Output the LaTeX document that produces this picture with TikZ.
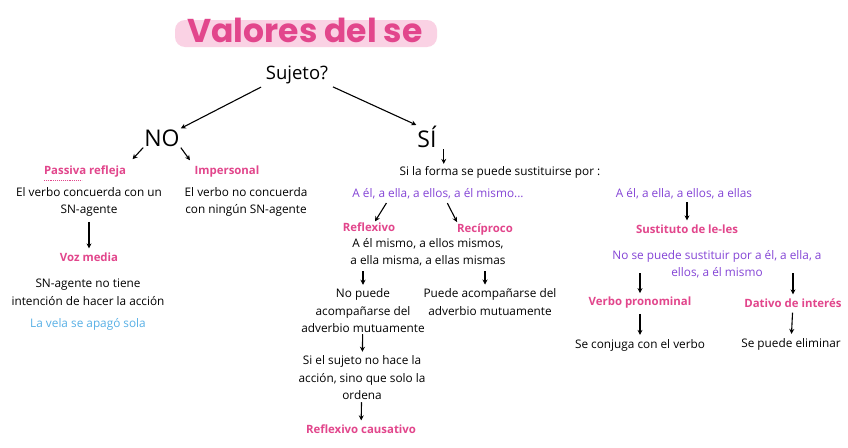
\documentclass[tikz,border=0pt]{standalone}
\usepackage{fontspec}
\setmainfont{Open Sans}
\newfontfamily\titlefont{Poppins}
\usetikzlibrary{arrows.meta,positioning}
\definecolor{rosa}{RGB}{226,70,140}
\definecolor{rosaclaro}{RGB}{250,210,228}
\definecolor{lila}{RGB}{132,68,214}
\definecolor{celeste}{RGB}{88,176,230}
\tikzset{
  txt/.style={align=center,inner sep=1pt,font=\fontsize{11.8}{17.5}\selectfont},
  tit/.style={txt,text=rosa,font=\fontsize{11.4}{17.5}\selectfont\bfseries},
  sust/.style={txt,text=lila},
  big/.style={inner sep=1pt,font=\fontsize{23}{25}\selectfont},
  arr/.style={-{Stealth[length=5pt,width=5pt]},line width=1.1pt,black},
  varr/.style={arr,shorten <=4pt,shorten >=3pt}
}
\begin{document}
\begin{tikzpicture}[x=1pt,y=-1pt]
  \useasboundingbox[fill=white] (0,0) rectangle (848,447);

  %% Titulo
  \fill[rosaclaro,rounded corners=10pt] (175,20) rectangle (437,47);
  \node[text=rosa,font=\titlefont\fontsize{33}{35}\selectfont\bfseries] (titulo) at (305,30) {Valores del se};
  \node[inner sep=1pt,font=\fontsize{18.5}{20}\selectfont] (sujeto) at (297,75) {Sujeto?};
  \node[big] (no) at (162,138) {NO};
  \node[big] (si) at (427,137) {SÍ};

  %% Rama NO
  \node[tit] (pasiva) at (85,172) {Passiva refleja};
  \node[txt] (concuerda) at (89,202) {El verbo concuerda con un\\SN-agente};
  \node[tit] (vozmedia) at (89,257) {Voz media};
  \node[txt] (intencion) at (88,292) {SN-agente no tiene\\intención de hacer la acción};
  \node[txt,text=celeste] (vela) at (88,324) {La vela se apagó sola};
  \node[tit] (impersonal) at (227,172) {Impersonal};
  \node[txt] (noconcuerda) at (246,202) {El verbo no concuerda\\con ningún SN-agente};
  \draw[rosa,densely dotted,line width=0.9pt] ([xshift=1pt,yshift=-1.5pt]pasiva.south west) -- ++(38,0);

  %% Rama SI
  \node[txt] (forma) at (500,172) {Si la forma se puede sustituirse por :};
  \node[sust] (aelmismo) at (438,194) {A él, a ella, a ellos, a él mismo...};
  \node[tit] (reflexivo) at (369,227) {Reflexivo};
  \node[tit] (reciproco) at (485,229) {Recíproco};
  \node[txt] (mismos) at (428,252) {A él mismo, a ellos mismos,\\a ella misma, a ellas mismas};
  \node[txt] (nopuede) at (363,311) {No puede\\acompañarse del\\adverbio mutuamente};
  \node[txt] (puede) at (490,302) {Puede acompañarse del\\adverbio mutuamente};
  \node[txt] (nohace) at (362,378) {Si el sujeto no hace la\\acción, sino que solo la\\ordena};
  \node[tit] (causativo) at (361,429) {Reflexivo causativo};

  \node[sust] (aellas) at (684,194) {A él, a ella, a ellos, a ellas};
  \node[tit] (sustituto) at (687,229) {Sustituto de le-les};
  \node[sust] (nosepuede) at (717,264) {No se puede sustituir por a él, a ella, a\\ellos, a él mismo};
  \node[tit] (pronominal) at (640,303) {Verbo pronominal};
  \node[tit] (dativo) at (793,303) {Dativo de interés};
  \node[txt] (conjuga) at (640,345) {Se conjuga con el verbo};
  \node[txt] (eliminar) at (791,344) {Se puede eliminar};

  %% Flechas
  \draw[arr,shorten <=4pt] (sujeto.south west) -- (no.north east);
  \draw[arr,shorten <=4pt] (sujeto.south east) -- (si.north west);
  \draw[arr,shorten >=8pt] (no.south west) -- (pasiva.north east);
  \draw[arr,shorten >=6pt] (no.south east) -- (impersonal.north west);
  \draw[varr] (concuerda) -- (vozmedia);
  \draw[arr,shorten >=1pt] ([xshift=6pt]si.south east) -- ([xshift=6pt]si.south east |- forma.north);
  \draw[arr,shorten <=3pt] ([xshift=-50pt]aelmismo.south) -- ([xshift=6pt]reflexivo.north);
  \draw[arr,shorten <=3pt] ([xshift=8pt]aelmismo.south) -- ([xshift=-28pt]reciproco.north);
  \draw[varr] (mismos.south -| nopuede) -- (nopuede);
  \draw[varr] (mismos.south -| reciproco) -- (reciproco |- puede.north);
  \draw[varr,shorten <=0pt] (nopuede) -- (nohace);
  \draw[varr,shorten <=1pt] (nohace) -- (causativo);
  \draw[varr,shorten <=2pt] (aellas.south -| sustituto) -- (sustituto);
  \draw[varr,shorten <=-6pt] (nosepuede.south -| pronominal) -- (pronominal);
  \draw[varr,shorten <=-6pt] (nosepuede.south -| dativo) -- (dativo);
  \draw[varr] (pronominal) -- (conjuga);
  \draw[varr] (dativo) -- (eliminar);
\end{tikzpicture}
\end{document}
